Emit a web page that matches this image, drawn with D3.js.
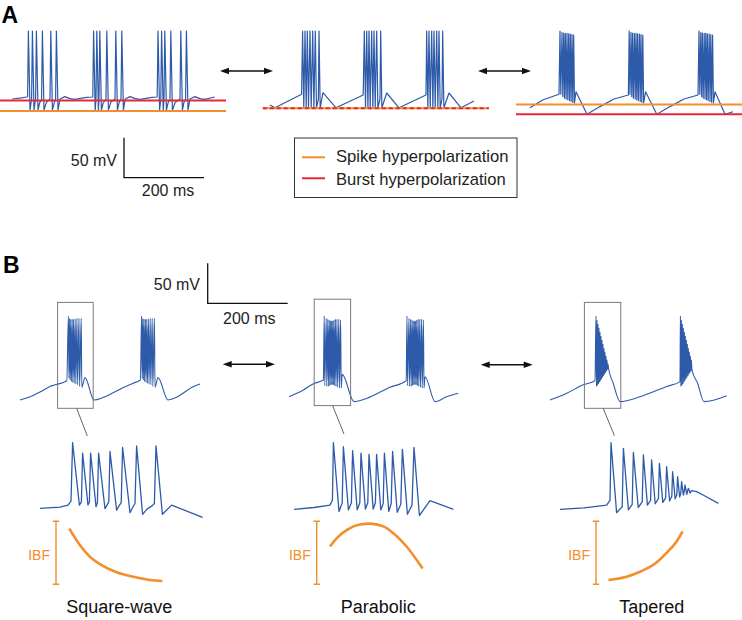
<!DOCTYPE html>
<html><head><meta charset="utf-8">
<script src="https://cdn.jsdelivr.net/npm/d3@7"></script>
<style>
body{margin:0;background:#fff}
svg{display:block}
text{font-family:"Liberation Sans",Arial,Helvetica,sans-serif}
</style>
</head><body>
<svg id="chart" width="742" height="620"></svg>
<script>
// ---------------- DATA (time in ms, membrane potential in mV) ----------------
// Panel A traces
const traceA1 = [[0,-55],[20,-54],[37,-52.5],[39,-52],[41,30],[45,-69],[49,-55],[51,30],[55,-69],[59,-55],[61,30],[65,-69],[69,-60],[74,-55],[76,30],[80,-69],[86,-59],[95,-55],[97,30],[101,-69],[106,-59],[109,-55],[111,30],[115,-69],[120,-55],[132,-52],[145,-54.5],[157,-55.5],[187,-53],[202,-52.5],
  [204,30],[208,-69],[210,-55],[212,30],[216,-69],[217.5,-55],[219.5,30],[223.5,-69],[228,-60],[235,-55],[237,30],[241,-69],[247,-59],[257.5,-55],[259.5,30],[263.5,-69],[268,-59],[272.5,-55],[274.5,30],[278.5,-69],[283,-55],[295,-52],[308,-54.5],[320,-55.5],[350,-53],[363,-52.5],
  [365,30],[369,-69],[372,-55],[374,30],[378,-69],[380,-55],[382,30],[386,-69],[390,-60],[395,-55],[397,30],[401,-69],[408,-59],[420,-55],[422,30],[426,-69],[430,-59],[434,-55],[436,30],[440,-69],[445,-55],[457,-52],[470,-54.5],[482,-55.5],[507,-52.5]];
const traceA2 = [[0,-62.5],[12.5,-66],[79,-49],[81.5,30],[84.5,-66],[87.5,30],[90.5,-66],[93.25,30],[96.25,-66],[100,30],[103,-66],[106.75,30],[109.75,-66],[113.25,30],[116.25,-66],[121,-55],[122.5,30],[125.5,-66],[132.5,-47],[165,-66],[233,-50],
  [235.8,30],[238.8,-66],[241.8,30],[244.8,-66],[247.5,30],[250.5,-66],[254.2,30],[257.2,-66],[260,30],[263,-66],[266.7,30],[269.7,-66],[275,-55],[276.7,30],[279.7,-66],[291.7,-47.5],[322.5,-66],[390,-50],
  [391.7,30],[394.7,-66],[397.5,30],[400.5,-66],[404.2,30],[407.2,-66],[410,30],[413,-66],[416.7,30],[419.7,-66],[422.5,30],[425.5,-66],[430,-55],[431.7,30],[434.7,-66],[447.5,-47.5],[477.5,-66],[510,-57.5]];
const traceA3 = [[0,-66],[33,-56],[72.5,-49],
  [75,30],[77,-49],[80,28],[82,-52],[84.3,27.5],[86.3,-54],[88.3,27],[90.3,-55],[92.5,27],[94.5,-56],[96.7,26.5],[98.7,-57],[100.8,26],[102.8,-58],[105,25.5],[107,-59],[109.2,25],[111.2,-60],
  [115,-46],[142.5,-74],[175,-64.5],[210,-55],[246,-50],
  [248,30],[250,-49],[252.5,28],[254.5,-52],[256.5,27.5],[258.5,-54],[261,27],[263,-55],[265,27],[267,-56],[269,26.5],[271,-57],[273.5,26],[275.5,-58],[277.5,25.5],[279.5,-59],[282,25],[284,-60],
  [289,-46],[317,-74],[350,-64.5],[385,-55],[420,-50],
  [422.5,30],[424.5,-49],[427,28],[429,-52],[431,27.5],[433,-54],[435.5,27],[437.5,-55],[439.5,27],[441.5,-56],[443.5,26.5],[445.5,-57],[448,26],[450,-58],[452,25.5],[454,-59],[456.5,25],[458.5,-60],
  [462.5,-46],[487.5,-74],[507.5,-71]];
// Hyperpolarization levels (mV) per panel-A trace, and their time extents (ms)
const spikeHyperV = [-70, -66.6, -62];
const burstHyperV = [-57, -66.6, -74];
const hyperExtent = [[-30,535],[-18,547],[-35,530]];

// Panel B traces
const traceB1 = [[0,-75],[25,-71],[50,-65],[75,-58],[88,-56],[117,-51],
  [121,30],[122.5,-48],[124,27],[125.5,-50],[127,26],[128.5,-52],[130.5,26],[132,-53],[134,26],[135.5,-54],[138,26.5],[139.5,-55],[142.5,27],[144,-56],[147.5,27],[149,-58],[153,27],[154.5,-59],
  [162.5,-47],[185,-75],[207,-72],[232.5,-66],[260,-59],[282.5,-54],[301,-50],
  [304,30],[305.5,-48],[307,27],[308.5,-50],[310,26],[311.5,-52],[313.5,26],[315,-53],[317,26],[318.5,-54],[321,26.5],[322.5,-55],[325.5,27],[327,-56],[330.5,27],[332,-58],[336,27],[337.5,-59],
  [345,-47],[370,-75],[390,-72],[407.5,-66.6],[430,-59],[450,-55]];
const traceB2 = [[0,-71],[36,-62.5],[60,-55],[82,-51],[86,-50],
  [88,30],[89.5,-57],[93,27],[94.5,-58],[97,26],[98.5,-58],[100.5,25],[102,-57],[103.5,24],[105,-56],[106.5,24],[108,-56],[109.5,24],[111,-56],[112.5,25],[114,-57],[116,26],[117.5,-58],[120,26],[121.5,-59],[124.5,26],[126,-60],[129,25],[130.5,-60],
  [133,-43],[162.5,-77],[194,-73],[252.5,-59],[293,-51],
  [295,30],[296.5,-57],[300,27],[301.5,-58],[304,26],[305.5,-58],[307.5,25],[309,-57],[310.5,24],[312,-56],[313.5,24],[315,-56],[316.5,24],[318,-56],[319.5,25],[321,-57],[323,26],[324.5,-58],[327,26],[328.5,-59],[331.5,26],[333,-60],[336,25],[337.5,-60],
  [340,-46],[365,-77],[394,-71],[423,-66.5]];
const traceB3 = [[0,-75],[42,-66.5],[83,-56],[112.5,-51],
  [115,30],[116.2,-58],[117.5,25],[118.7,-57],[120,20],[121.2,-55],[122.5,15],[123.7,-53],[125,10],[126.2,-51],[127.5,5],[128.7,-49],[130,0],[131.2,-47],[132.5,-5],[133.7,-45],[135,-10],[136.2,-43],[137.5,-15],[138.7,-41],[140,-20],[141.2,-39],[142.5,-25],[143.7,-37],[145,-30],[146.2,-35],
  [158,-54],[175,-77],[225,-71],[292,-58],[325,-52],
  [326,30],[327.2,-58],[328.5,25],[329.7,-57],[331,20],[332.2,-55],[333.5,15],[334.7,-53],[336,10],[337.2,-51],[338.5,5],[339.7,-49],[341,0],[342.2,-47],[343.5,-5],[344.7,-45],[346,-10],[347.2,-43],[348.5,-15],[349.7,-41],[351,-20],[352.2,-39],[353.5,-25],[354.7,-37],
  [369,-54],[385,-77],[442,-69.6]];

// Zoomed single bursts
const burstSquare = [[0,-52],[10,-50.5],[14,-48],[15.5,-43],[16.3,30],[19.7,-48],[20.7,-44],[21.3,17],[24,-48],[24.7,-44],[25.3,17],[28,-50],[28.7,-45],[29.3,17],[32.5,-52.5],[33.5,-48],[34.4,-44],[35,19],[38.3,-54.5],[39.5,-49],[40.6,-45],[41.3,24],[45,-57.5],[46.3,-51],[47.5,-46],[48.3,26],[51.3,-59.5],[53.5,-53],[56,-49],[57.2,-46],[58,26],[61.2,-59.5],[65.8,-48],[81.3,-63.3]];
const burstParabolic = [[0,-53.3],[10,-51],[18,-48],[19.2,-42],[19.7,30],[22.5,-56],[24.1,-45],[24.7,25],[27.2,-54],[28.7,-45],[29.3,20],[31.6,-54],[32.9,-45],[33.5,17],[35.7,-53],[36.9,-45],[37.5,15.5],[39.6,-53],[40.7,-45],[41.3,15.5],[43.4,-54],[44.6,-46],[45.2,17],[47.4,-56],[48.6,-46],[49.3,19],[51.6,-57],[53.4,-47],[54.2,21.7],[56.7,-59.5],[59,-48],[60,24.2],[62.7,-61],[68,-42.5],[79.7,-53.3]];
const burstTapered = [[0,-53.3],[12,-51.5],[23.3,-48],[25,-42],[25.5,30],[28.3,-57.5],[31.1,-50],[31.7,23],[34.2,-54],[36.1,-47],[36.7,18],[39.1,-51],[41.1,-44],[41.7,14.6],[43.7,-48],[45.3,-42],[45.8,8.4],[47.6,-46.3],[49.2,-40],[49.7,4.2],[51.4,-44.6],[52.8,-39],[53.3,0],[54.8,-42.9],[55.9,-37],[56.3,-6.3],[57.6,-40.2],[58.4,-35],[58.8,-12.5],[59.8,-37.9],[60.4,-33],[60.8,-18.8],[61.7,-35.6],[62.1,-31],[62.5,-22.9],[63.4,-34.6],[63.8,-30],[64.2,-27],[65,-32.9],[65.8,-30],[68.3,-31.2],[72,-36],[79.2,-45.8]];

// Intra-burst frequency (normalized) vs time in the zoomed burst
const ibfSquareT = [14.65,20,25,30,38.3,46.7,55,61.2];
const ibfSquareV = [0.885,0.62,0.436,0.32,0.19,0.12,0.068,0.052];
const ibfParabolicT = [18,21.3,26.3,33,38,44.7,49.7,56.3,64.3];
const ibfParabolicV = [0.6,0.73,0.86,0.95,0.963,0.92,0.81,0.6,0.25];
const ibfTaperedT = [24.2,33.3,40,46.7,53.3,58.3,61.3];
const ibfTaperedV = [0.069,0.12,0.2,0.31,0.5,0.68,0.84];

// Zoom boxes on panel B traces: [t start, t end] (ms) and [v top, v bottom] (mV)
const boxT = [[94,183],[63,154],[86,177]];
const boxV = [[47,-85.4],[51,-82],[47,-85.4]];
const connFrom = [[141.75,-85.4],[109,-82],[133,-85.4]];
const connTo = [[23.65,38.4],[25,40.9],[27.2,38.75]];

const burstNames = ["Square-wave","Parabolic","Tapered"];
const legendLabels = ["Spike hyperpolarization","Burst hyperpolarization"];
const scaleBarMs = 200, scaleBarMv = 50;

// ---------------- LAYOUT ----------------
const svg = d3.select("#chart");
const BLUE = "#2d5aa9", ORANGE = "#f28e2b", RED = "#e6283a";
const vDomain = [-80, 30], mvPx = 0.8;
function mk(x0, yTop, msPx) {
  return {
    x: d3.scaleLinear().domain([0, 100]).range([x0, x0 + 100 * msPx]),
    y: d3.scaleLinear().domain(vDomain).range([yTop + (vDomain[1] - vDomain[0]) * mvPx, yTop])
  };
}
const sA = [mk(12,31,0.4), mk(270,31,0.4), mk(530,31,0.4)];
const sB = [mk(20,316,0.4), mk(289,316,0.4), mk(550,316,0.4)];
const sZ = [mk(40,442.7,2), mk(294,442.7,2), mk(560,442.7,2)];

function drawTrace(data, s, w, smooth) {
  const line = d3.line().x(d => s.x(d[0])).y(d => s.y(d[1]));
  if (smooth) line.curve(d3.curveMonotoneX);
  svg.append("path").attr("d", line(data)).attr("fill", "none")
    .attr("stroke", BLUE).attr("stroke-width", w).attr("stroke-linejoin", "round");
}

// Panel A
[traceA1, traceA2, traceA3].forEach((tr, i) => drawTrace(tr, sA[i], 1.2, false));
hyperExtent.forEach((ext, i) => {
  const s = sA[i];
  const dashed = i === 1;
  const order = dashed ? [["spike", spikeHyperV[i]], ["burst", burstHyperV[i]]]
                       : [["burst", burstHyperV[i]], ["spike", spikeHyperV[i]]];
  order.forEach(([kind, v]) => {
    const ln = svg.append("line")
      .attr("x1", s.x(ext[0])).attr("x2", s.x(ext[1]))
      .attr("y1", s.y(v)).attr("y2", s.y(v))
      .attr("stroke", kind === "spike" ? ORANGE : RED).attr("stroke-width", 2);
    if (dashed && kind === "burst") ln.attr("stroke-dasharray", "4,3");
  });
});

// arrows
function arrow(x1, x2, y) {
  const g = svg.append("g");
  const hl = 9, hw = 3.2;
  g.append("line").attr("x1", x1 + hl - 1).attr("x2", x2 - hl + 1).attr("y1", y).attr("y2", y)
    .attr("stroke", "#111").attr("stroke-width", 1.4);
  g.append("path").attr("d", `M${x1},${y}L${x1+hl},${y-hw}L${x1+hl},${y+hw}Z`).attr("fill", "#111");
  g.append("path").attr("d", `M${x2},${y}L${x2-hl},${y-hw}L${x2-hl},${y+hw}Z`).attr("fill", "#111");
}
arrow(220, 273, 71); arrow(478, 531, 71);
arrow(222.7, 275, 364.3); arrow(480.7, 532.7, 364.7);

// scale bars
function scaleBar(cx, cy, s, textRightX, mvBase, msX, msBase) {
  const h = s.y(vDomain[1] - scaleBarMv) - s.y(vDomain[1]);
  const w = s.x(scaleBarMs) - s.x(0);
  svg.append("path").attr("d", `M${cx},${cy - h}V${cy}H${cx + w}`)
    .attr("fill", "none").attr("stroke", "#111").attr("stroke-width", 1.3);
  svg.append("text").attr("x", textRightX).attr("y", mvBase).attr("text-anchor", "end")
    .attr("font-size", 16).attr("fill", "#222").text(scaleBarMv + " mV");
  svg.append("text").attr("x", msX).attr("y", msBase).attr("text-anchor", "middle")
    .attr("font-size", 16).attr("fill", "#222").text(scaleBarMs + " ms");
}
scaleBar(124, 177.7, sA[0], 117, 165.7, 168, 196);
scaleBar(207.7, 303.3, sB[0], 200, 290, 249.3, 324);

// legend
svg.append("rect").attr("x", 294.5).attr("y", 138).attr("width", 222.5).attr("height", 59.5)
  .attr("fill", "none").attr("stroke", "#333").attr("stroke-width", 1);
[[ORANGE, 157.3, 161.8], [RED, 178.3, 184.8]].forEach((d, i) => {
  svg.append("line").attr("x1", 302).attr("x2", 325).attr("y1", d[1]).attr("y2", d[1])
    .attr("stroke", d[0]).attr("stroke-width", 2);
  svg.append("text").attr("x", 336).attr("y", d[2]).attr("font-size", 16.6).attr("fill", "#222")
    .text(legendLabels[i]);
});

// Panel letters
svg.append("text").attr("x", 1.5).attr("y", 22.7).attr("font-size", 23).attr("font-weight", "bold").text("A");
svg.append("text").attr("x", 3).attr("y", 273.4).attr("font-size", 23).attr("font-weight", "bold").text("B");

// Panel B traces
[traceB1, traceB2, traceB3].forEach((tr, i) => drawTrace(tr, sB[i], 1.1, true));
boxT.forEach((bt, i) => {
  const s = sB[i];
  svg.append("rect").attr("x", s.x(bt[0])).attr("y", s.y(boxV[i][0]))
    .attr("width", s.x(bt[1]) - s.x(bt[0])).attr("height", s.y(boxV[i][1]) - s.y(boxV[i][0]))
    .attr("fill", "none").attr("stroke", "#7a7a7a").attr("stroke-width", 1);
  svg.append("line")
    .attr("x1", s.x(connFrom[i][0])).attr("y1", s.y(connFrom[i][1]))
    .attr("x2", sZ[i].x(connTo[i][0])).attr("y2", sZ[i].y(connTo[i][1]))
    .attr("stroke", "#666").attr("stroke-width", 1);
});

// Zoomed bursts
[burstSquare, burstParabolic, burstTapered].forEach((tr, i) => drawTrace(tr, sZ[i], 1.3, false));

// IBF
const ibfY = d3.scaleLinear().domain([0, 1]).range([584.3, 521.3]);
const ibfBarT = [8, 11.35, 18];
const ibfSets = [[ibfSquareT, ibfSquareV], [ibfParabolicT, ibfParabolicV], [ibfTaperedT, ibfTaperedV]];
ibfSets.forEach(([T, V], i) => {
  const s = sZ[i];
  const pts = T.map((t, k) => [t, V[k]]);
  svg.append("path")
    .attr("d", d3.line().x(d => s.x(d[0])).y(d => ibfY(d[1])).curve(d3.curveMonotoneX)(pts))
    .attr("fill", "none").attr("stroke", ORANGE).attr("stroke-width", 2.6).attr("stroke-linecap", "butt");
  const bx = s.x(ibfBarT[i]);
  svg.append("path").attr("d", `M${bx},${ibfY(1)}V${ibfY(0)}M${bx-3.2},${ibfY(1)}H${bx+3.2}M${bx-3.2},${ibfY(0)}H${bx+3.2}`)
    .attr("stroke", ORANGE).attr("stroke-width", 1.4).attr("fill", "none");
  svg.append("text").attr("x", bx - 6).attr("y", 560).attr("text-anchor", "end")
    .attr("font-size", 14).attr("fill", ORANGE).text("IBF");
});

// Burst type labels
const labelX = [119.3, 378.3, 651.7];
burstNames.forEach((n, i) => {
  svg.append("text").attr("x", labelX[i]).attr("y", 613.3).attr("text-anchor", "middle")
    .attr("font-size", 18).attr("fill", "#111").text(n);
});
</script>
</body></html>
